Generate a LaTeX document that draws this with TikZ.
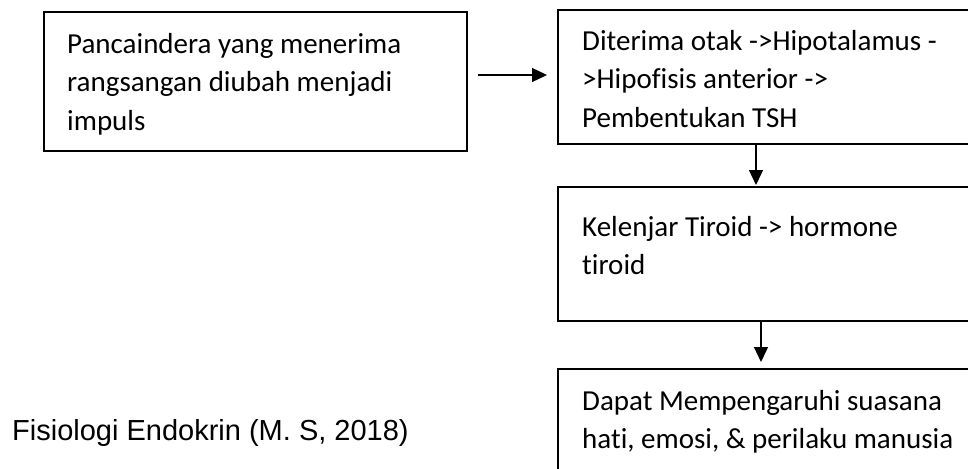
\documentclass[tikz,border=0pt]{standalone}
\usepackage{fontspec}
\setmainfont{Carlito}[Ligatures={NoCommon,NoRare}]
\newfontfamily\sumberfont{Liberation Sans}
\usetikzlibrary{arrows.meta,positioning}

\begin{document}
\begin{tikzpicture}[x=1pt,y=-1pt,
    kotak/.style={draw, line width=2pt, inner sep=0pt, outer sep=0pt, anchor=north west},
    isi/.style={anchor=north west, inner sep=0pt, align=left, font=\fontsize{29}{38.5}\selectfont},
    panah/.style={line width=1.3pt, -{Triangle[length=15pt,width=14pt]}}]
    \clip (0,0) rectangle (968,468);

    % kotak-kotak
    \node[kotak, minimum width=423pt, minimum height=139pt] (indera) at (44,12) {};
    \node[kotak, minimum width=420pt, minimum height=134pt] (otak) at (558,10) {};
    \node[kotak, minimum width=420pt, minimum height=134pt] (tiroid) at (558,187) {};
    \node[kotak, minimum width=420pt, minimum height=140pt] (emosi) at (558,369) {};

    % isi kotak
    \node[isi] (tIndera) at ([xshift=23pt,yshift=-21pt]indera.north west)
        {Pancaindera yang menerima\\rangsangan diubah menjadi\\impuls};
    \node[isi] (tOtak) at ([xshift=24pt,yshift=-20pt]otak.north west)
        {Diterima otak ->Hipotalamus -\\>Hipofisis anterior ->\\Pembentukan TSH};
    \node[isi] (tTiroid) at ([xshift=24pt,yshift=-29pt]tiroid.north west)
        {Kelenjar Tiroid -> hormone\\tiroid};
    \node[isi] (tEmosi) at ([xshift=24pt,yshift=-21pt]emosi.north west)
        {Dapat Mempengaruhi suasana\\hati, emosi, \& perilaku manusia};

    % panah
    \draw[panah] ([xshift=11pt,yshift=2pt]indera.east |- otak.west) -- ([xshift=-11pt,yshift=2pt]otak.west);
    \draw[panah] ([xshift=198pt]otak.south west) -- ([xshift=198pt,yshift=2pt]tiroid.north west);
    \draw[panah] ([xshift=203pt]tiroid.south west) -- ([xshift=203pt,yshift=7pt]emosi.north west);

    % sumber
    \node[anchor=base west, inner sep=0pt, font=\sumberfont\fontsize{29}{35}\selectfont] (sumber) at (12,440)
        {Fisiologi Endokrin (M. S, 2018)};
\end{tikzpicture}
\end{document}
